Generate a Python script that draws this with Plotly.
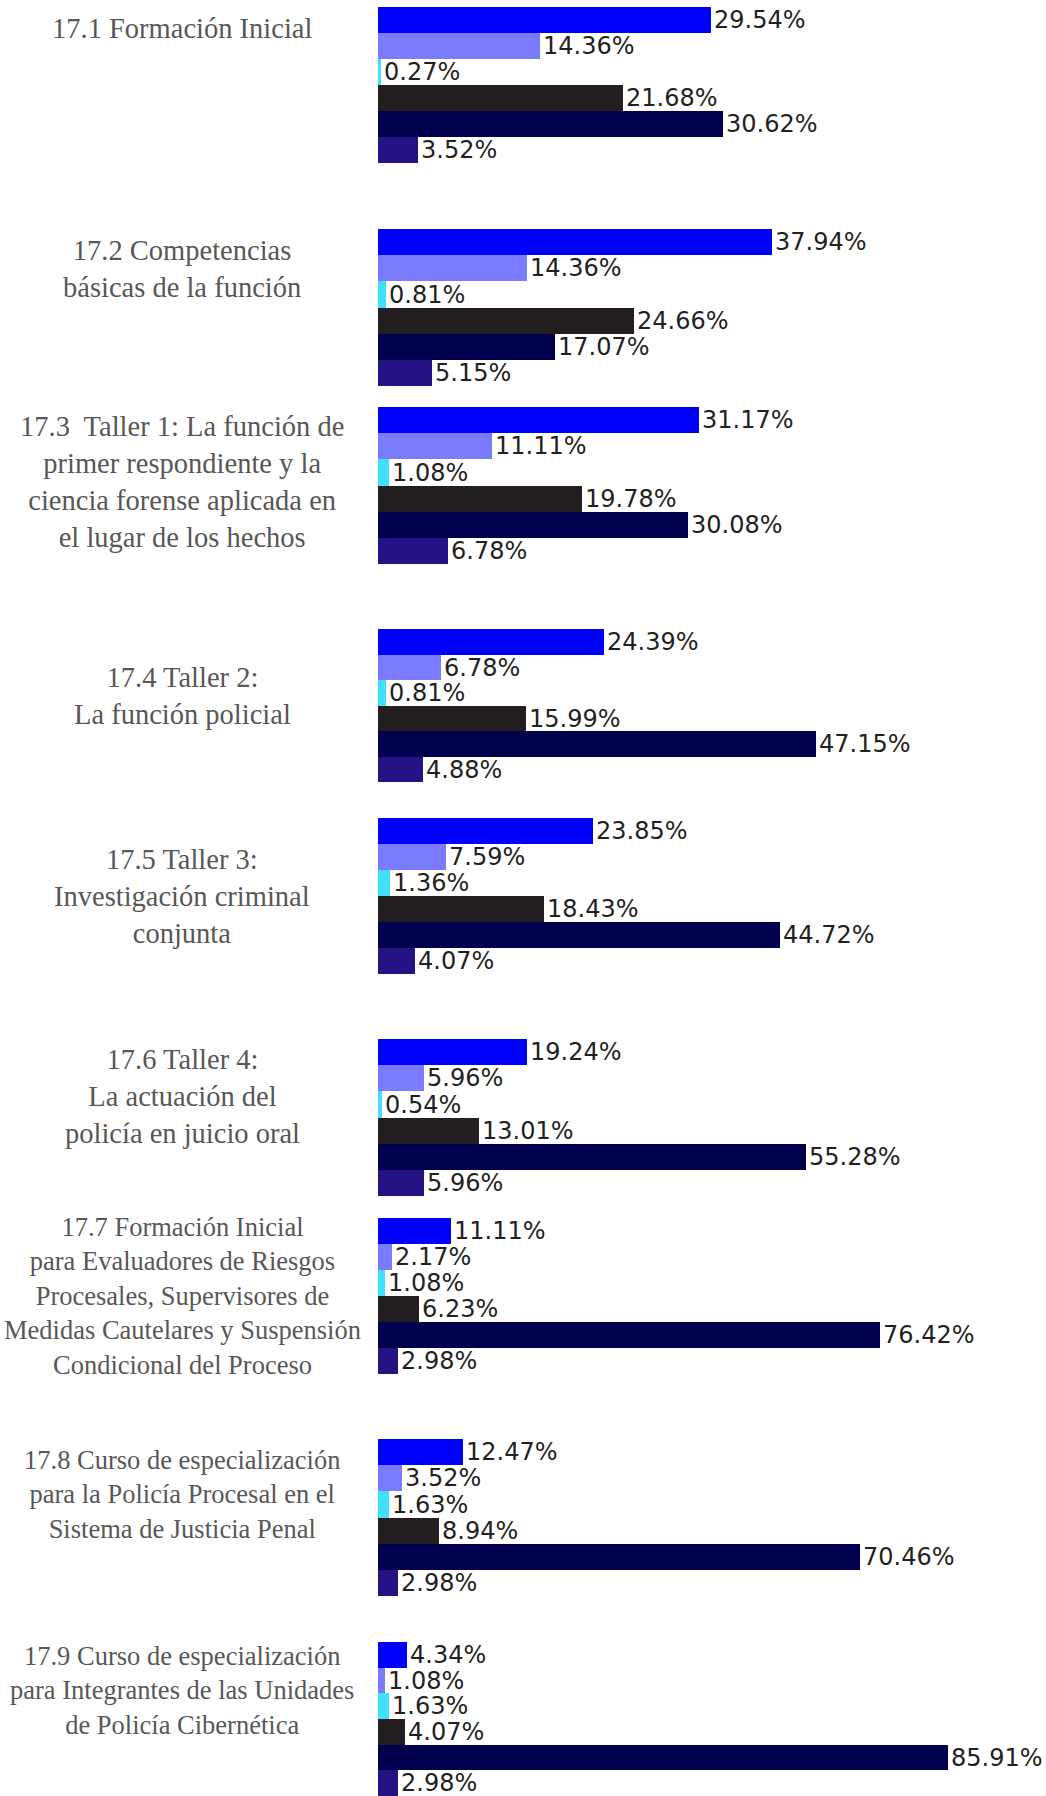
import plotly.graph_objects as go

series = ["Serie 1", "Serie 2", "Serie 3", "Serie 4", "Serie 5", "Serie 6"]
series_colors = ["#0000ff", "#7b7bff", "#3fe1ff", "#231f20", "#00004e", "#251285"]

groups = [
    "17.1 Formación Inicial",
    "17.2 Competencias<br>básicas de la función",
    "17.3  Taller 1: La función de<br>primer respondiente y la<br>ciencia forense aplicada en<br>el lugar de los hechos",
    "17.4 Taller 2:<br>La función policial",
    "17.5 Taller 3:<br>Investigación criminal<br>conjunta",
    "17.6 Taller 4:<br>La actuación del<br>policía en juicio oral",
    "17.7 Formación Inicial<br>para Evaluadores de Riesgos<br>Procesales, Supervisores de<br>Medidas Cautelares y Suspensión<br>Condicional del Proceso",
    "17.8 Curso de especialización<br>para la Policía Procesal en el<br>Sistema de Justicia Penal",
    "17.9 Curso de especialización<br>para Integrantes de las Unidades<br>de Policía Cibernética",
]

g17_1 = [29.54, 14.36, 0.27, 21.68, 30.62, 3.52]
g17_2 = [37.94, 14.36, 0.81, 24.66, 17.07, 5.15]
g17_3 = [31.17, 11.11, 1.08, 19.78, 30.08, 6.78]
g17_4 = [24.39, 6.78, 0.81, 15.99, 47.15, 4.88]
g17_5 = [23.85, 7.59, 1.36, 18.43, 44.72, 4.07]
g17_6 = [19.24, 5.96, 0.54, 13.01, 55.28, 5.96]
g17_7 = [11.11, 2.17, 1.08, 6.23, 76.42, 2.98]
g17_8 = [12.47, 3.52, 1.63, 8.94, 70.46, 2.98]
g17_9 = [4.34, 1.08, 1.63, 4.07, 85.91, 2.98]
values = [g17_1, g17_2, g17_3, g17_4, g17_5, g17_6, g17_7, g17_8, g17_9]

# each block in the source was scaled on its own, so every panel gets its own range
axis_max = [58.7, 63.7, 64.3, 71.3, 73.6, 85.5, 100.8, 96.8, 99.8]
# pixel extent (top, bottom) of each block in the page
blocks = [(7, 163), (229, 386), (407, 564), (629, 782), (818, 974),
          (1039, 1196), (1218, 1374), (1439, 1596), (1642, 1796)]
label_shift = [56, 38, 3, 10, 0, 21, 0, 23, 29]
label_size = [28.5, 28.5, 28.5, 28.5, 28.5, 28.5, 26.5, 26.5, 26.5]

H = 1796
fig = go.Figure()
layout = {}
for i, vals in enumerate(values):
    n = "" if i == 0 else str(i + 1)
    fig.add_trace(go.Bar(
        x=vals,
        y=series,
        orientation="h",
        marker=dict(color=series_colors, line=dict(width=0)),
        text=[f"{v:.2f}%" for v in vals],
        textposition="outside",
        textfont=dict(family="DejaVu Sans", size=24, color="#231f20"),
        constraintext="none",
        cliponaxis=False,
        xaxis="x" + n,
        yaxis="y" + n,
        showlegend=False,
        hoverinfo="skip",
    ))
    top, bottom = blocks[i]
    layout["xaxis" + n] = dict(domain=[0, 1], range=[0, axis_max[i]], visible=False,
                               anchor="y" + n, fixedrange=True)
    layout["yaxis" + n] = dict(domain=[1 - bottom / H, 1 - top / H], visible=False,
                               autorange="reversed", anchor="x" + n, fixedrange=True)
    fig.add_annotation(
        text=groups[i],
        xref="paper", yref=f"y{n} domain",
        x=-0.296, y=0.5, xanchor="center", yanchor="middle",
        yshift=label_shift[i], align="center", showarrow=False,
        font=dict(family="Liberation Serif", size=label_size[i], color="#575757"),
    )

fig.update_layout(
    **layout,
    width=1046,
    height=H,
    margin=dict(l=378, r=6, t=0, b=0),
    bargap=0,
    plot_bgcolor="white",
    paper_bgcolor="white",
)

fig.write_html("out.html", config={"displayModeBar": False},
               post_script="document.body.style.margin='0';")
